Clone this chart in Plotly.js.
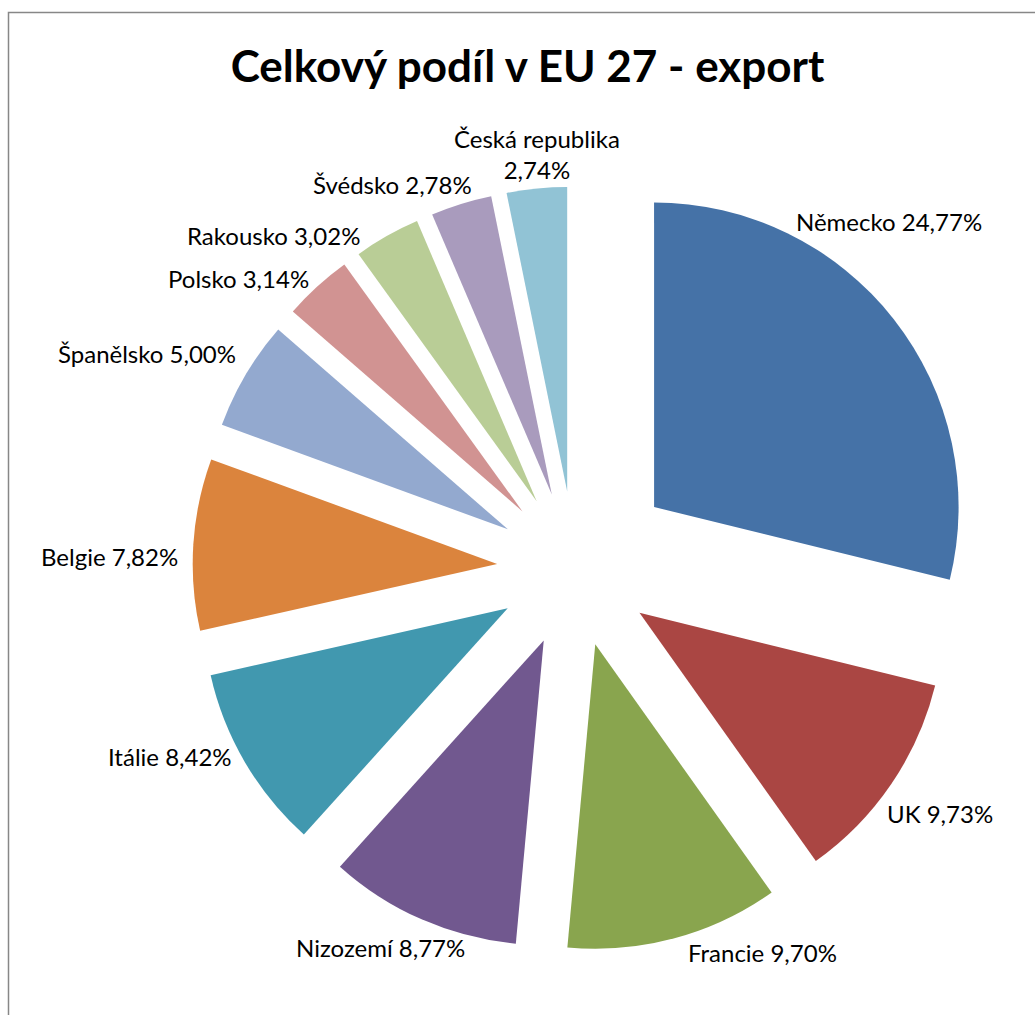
<!DOCTYPE html>
<html><head><meta charset="utf-8">
<script src="https://cdn.plot.ly/plotly-3.0.1.min.js"></script>
<style>body{margin:0;background:#fff}#chart{width:1035px;height:1015px}</style>
</head><body><div id="chart"></div>
<script>
const countries = ["Německo","UK","Francie","Nizozemí","Itálie","Belgie","Španělsko","Polsko","Rakousko","Švédsko","Česká republika"];
const shares = [24.77,9.73,9.70,8.77,8.42,7.82,5.00,3.14,3.02,2.78,2.74];
const sliceColors = ["#4572A7","#AA4643","#89A54E","#71588F","#4198AF","#DB843D","#93A9CF","#D19392","#B9CD96","#A99BBD","#91C3D5"];
const chartTitle = "Celkový podíl v EU 27 - export";

// label centres (pixels) as placed in the original chart
const labelPos = [[889,221],[940,813],[762,952],[380,947],[170,756],[109,556],[147,354],[238,278],[273,235],[392,184],[537,154]];

const pulls = countries.map((c, i) => i === 0 ? 0.33 : 0.256);
const fmt = v => v.toFixed(2).replace(".", ",") + "%";
const labelText = countries.map((c, i) => c === "Česká republika" ? c + "<br>" + fmt(shares[i]) : c + " " + fmt(shares[i]));

const W = 1035, H = 1015;
const M = {l: 170, r: 55, t: 164, b: 41};
const pw = W - M.l - M.r, ph = H - M.t - M.b;
const px = x => (x - M.l) / pw;
const py = y => 1 - (y - M.t) / ph;
const FONT = "Lato, 'Open Sans', sans-serif";

const data = [{
  type: "pie",
  labels: countries,
  values: shares,
  sort: false,
  direction: "clockwise",
  rotation: 0,
  pull: pulls,
  marker: {colors: sliceColors, line: {width: 0}},
  textinfo: "none",
  showlegend: false,
  hoverinfo: "skip"
}];

const annotations = labelText.map((t, i) => ({
  text: t, showarrow: false,
  xref: "paper", yref: "paper",
  x: px(labelPos[i][0]), y: py(labelPos[i][1]),
  xanchor: "center", yanchor: "middle", align: "center",
  font: {family: FONT, size: 24, color: "#000"}
}));

const layout = {
  width: W, height: H,
  margin: M,
  paper_bgcolor: "#fff",
  font: {family: FONT, color: "#000"},
  title: {
    text: "<b>" + chartTitle + "</b>",
    font: {family: FONT, size: 44, color: "#000"},
    xref: "container", yref: "container",
    x: 527.5 / W, xanchor: "center",
    y: 1 - 67 / H, yanchor: "middle"
  },
  annotations: annotations,
  shapes: [{
    type: "rect", xref: "paper", yref: "paper",
    x0: px(8.5), x1: px(1060), y0: py(1040), y1: py(12.5),
    line: {color: "#878787", width: 1.5}, fillcolor: "rgba(0,0,0,0)"
  }]
};

Plotly.newPlot("chart", data, layout, {staticPlot: true, displayModeBar: false});
</script>
</body></html>
